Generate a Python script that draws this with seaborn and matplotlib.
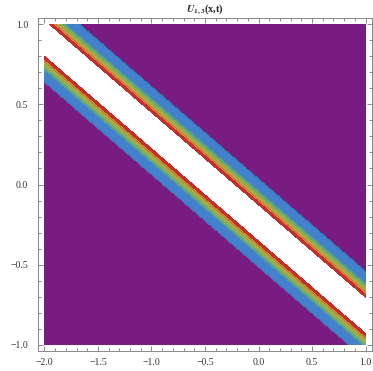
import numpy as np
import matplotlib
matplotlib.use("Agg")
import matplotlib.pyplot as plt
import seaborn as sns
from matplotlib.ticker import MultipleLocator

# ---- data ----
x_range = [-2.0, 1.0]
t_range = [-1.0, 1.0]
wave_speed = 1.732          # bands follow x + speed*t = const
wave_center = -0.416        # centre of the white (clipped) crest
wave_width = 0.30
# distance from crest where each colour boundary sits (outer -> inner)
band_edges = [0.475, 0.345, 0.315, 0.285, 0.255, 0.226, 0.197]
band_colors = ["#781C81", "#4381CC", "#5BA89C", "#86B864", "#B7B347", "#CF8E3C", "#D3302C"]
x_ticks = [-2.0, -1.5, -1.0, -0.5, 0.0, 0.5, 1.0]
t_ticks = [-1.0, -0.5, 0.0, 0.5, 1.0]

sns.set_style("ticks")
plt.rcParams["font.family"] = ["Liberation Serif", "DejaVu Serif"]
plt.rcParams["mathtext.fontset"] = "stix"

x = np.linspace(x_range[0], x_range[1], 600)
t = np.linspace(t_range[0], t_range[1], 400)
X, T = np.meshgrid(x, t)
U = 1.0 / np.cosh((X + wave_speed * T - wave_center) / wave_width) ** 2
levels = [0.0] + [1.0 / np.cosh(d / wave_width) ** 2 for d in band_edges]

fig = plt.figure(figsize=(3.73, 3.71), dpi=100)
ax = fig.add_axes([38 / 373, 20 / 371, 334 / 373, 333 / 371])
ax.set_facecolor("white")
ax.contourf(X, T, U, levels=levels, colors=band_colors)
ax.contour(X, T, U, levels=levels[1:], colors=["#00000030"], linewidths=0.4)

ax.set_xlim(-2.06, 1.06)
ax.set_ylim(-1.04, 1.04)
ax.set_xticks(x_ticks)
ax.set_yticks(t_ticks)
ax.xaxis.set_minor_locator(MultipleLocator(0.1))
ax.yaxis.set_minor_locator(MultipleLocator(0.1))
ax.set_xticklabels([f"{v:.1f}".replace("-", "\u2212") for v in x_ticks])
ax.set_yticklabels([f"{v:.1f}".replace("-", "\u2212") for v in t_ticks])
ax.tick_params(which="both", direction="in", top=True, right=True,
               colors="#777777", labelcolor="#333333", width=0.6)
ax.tick_params(which="major", length=3.5, labelsize=7)
ax.tick_params(which="minor", length=2)
ax.tick_params(axis="x", which="major", pad=5)
ax.tick_params(axis="y", which="major", pad=7)
for s in ax.spines.values():
    s.set_color("#888888")
    s.set_linewidth(0.7)

ax.set_title(r"$\boldsymbol{U}_{\mathbf{1,3}}$" + "(x,t)", fontsize=7.5,
             fontweight="bold", pad=4)

fig.savefig("out.png", dpi=100)
